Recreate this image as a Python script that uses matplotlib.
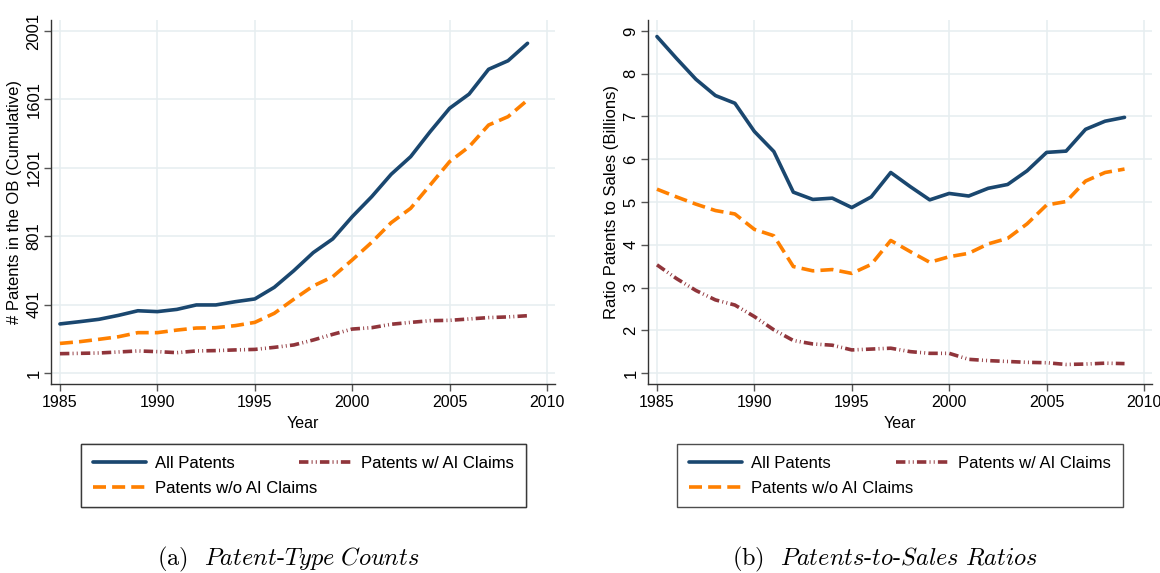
import matplotlib
matplotlib.use("Agg")
import matplotlib.pyplot as plt
from matplotlib.lines import Line2D

years = list(range(1985, 2010))

# Panel (a): cumulative patent counts
all_counts = [288, 301, 315, 338, 365, 360, 373, 399, 399, 418, 434, 502, 599, 705, 785,
              915, 1032, 1163, 1266, 1412, 1549, 1632, 1777, 1827, 1929]
noai_counts = [174, 184, 198, 213, 237, 237, 252, 264, 266, 278, 297, 350, 432, 510, 564,
               662, 765, 880, 964, 1100, 1237, 1324, 1451, 1500, 1597]
ai_counts = [114, 116, 118, 124, 130, 126, 120, 130, 132, 136, 139, 151, 165, 194, 227,
             258, 266, 286, 297, 307, 309, 317, 325, 329, 336]

# Panel (b): patents-to-sales ratios
all_ratio = [8.87, 8.36, 7.87, 7.49, 7.31, 6.65, 6.18, 5.23, 5.06, 5.09, 4.87, 5.12, 5.69,
             5.36, 5.05, 5.20, 5.14, 5.32, 5.41, 5.73, 6.16, 6.19, 6.70, 6.89, 6.98]
noai_ratio = [5.30, 5.12, 4.95, 4.80, 4.72, 4.36, 4.21, 3.49, 3.39, 3.42, 3.33, 3.54, 4.10,
              3.84, 3.59, 3.72, 3.80, 4.02, 4.15, 4.49, 4.93, 5.01, 5.49, 5.69, 5.77]
ai_ratio = [3.53, 3.21, 2.93, 2.71, 2.59, 2.32, 2.01, 1.76, 1.68, 1.65, 1.54, 1.56, 1.58,
            1.50, 1.46, 1.46, 1.32, 1.29, 1.27, 1.25, 1.24, 1.20, 1.21, 1.23, 1.22]

xticks = [1985, 1990, 1995, 2000, 2005, 2010]
yticks_a = [1, 401, 801, 1201, 1601, 2001]
yticks_b = [1, 2, 3, 4, 5, 6, 7, 8, 9]

series_labels = ["All Patents", "Patents w/o AI Claims", "Patents w/ AI Claims"]

NAVY = "#1a476f"
ORANGE = "#ff8000"
MAROON = "#90353b"
GRID = "#e6eef0"
SANS = ["Liberation Sans", "DejaVu Sans"]

plt.rcParams["mathtext.fontset"] = "cm"

W, H = 1160, 573
fig = plt.figure(figsize=(W / 100, H / 100), dpi=100)


def fx(px):
    return px / W


def fy(py):
    return 1 - py / H


styles = [
    dict(color=NAVY, lw=2.6, ls="-", solid_capstyle="round"),
    dict(color=ORANGE, lw=2.6, ls=(0, (3.6, 1.7)), dash_capstyle="butt"),
    dict(color=MAROON, lw=2.6, ls=(0, (2.6, 0.9, 0.25, 0.9, 0.25, 0.9)), dash_capstyle="butt"),
]


def make_axes(left_px, right_px, xlim, ylim, yticks, ylabel, series):
    ax = fig.add_axes([fx(left_px), fy(384), fx(right_px - left_px), (384 - 20) / H])
    for vals, st in zip(series, styles):
        ax.plot(years, vals, **st, zorder=3)
    ax.set_xlim(*xlim)
    ax.set_ylim(*ylim)
    ax.set_xticks(xticks)
    ax.set_yticks(yticks)
    ax.grid(True, color=GRID, lw=1.1, zorder=0)
    ax.set_axisbelow(True)
    for s in ["top", "right"]:
        ax.spines[s].set_visible(False)
    for s in ["left", "bottom"]:
        ax.spines[s].set_color("#333333")
        ax.spines[s].set_linewidth(1.0)
    ax.tick_params(axis="both", direction="out", length=5, width=1.0, color="#555555")
    ax.tick_params(axis="x", pad=3)
    ax.tick_params(axis="y", pad=2)
    for t in ax.get_xticklabels():
        t.set_fontfamily(SANS)
        t.set_fontsize(11.5)
    for t in ax.get_yticklabels():
        t.set_fontfamily(SANS)
        t.set_fontsize(12)
        t.set_rotation(90)
        t.set_va("center")
    ax.set_xlabel("Year", fontfamily=SANS, fontsize=11.5, labelpad=4)
    ax.set_ylabel(ylabel, fontfamily=SANS, fontsize=12, labelpad=3)
    return ax


ax1 = make_axes(51, 555, (1984.54, 2010.41), (-63.3, 2065.3), yticks_a,
                "# Patents in the OB (Cumulative)", [all_counts, noai_counts, ai_counts])
ax2 = make_axes(648, 1152, (1984.54, 2010.41), (0.743, 9.257), yticks_b,
                "Ratio Patents to Sales (Billions)", [all_ratio, noai_ratio, ai_ratio])


def make_legend(x0, x1):
    handles = [Line2D([], [], **st) for st in styles]
    leg = fig.legend(handles, series_labels, ncol=2, mode="expand",
                     loc="upper left",
                     bbox_to_anchor=(fx(x0), fy(503), fx(x1 - x0), (503 - 444) / H),
                     prop={"family": SANS, "size": 12},
                     frameon=True, fancybox=False, edgecolor="#222222",
                     handlelength=3.2, handletextpad=0.55, labelspacing=0.6,
                     borderpad=0.7, borderaxespad=0.0, columnspacing=1.4)
    leg.get_frame().set_linewidth(1.0)
    return leg


fig.add_artist(make_legend(81, 526))
make_legend(677, 1123)

fig.text(fx(288), fy(559), r"(a)  $\mathit{Patent}$-$\mathit{Type\ Counts}$",
         family="cmr10", fontsize=17.5, ha="center", va="center")
fig.text(fx(885), fy(559), r"(b)  $\mathit{Patents}$-$\mathit{to}$-$\mathit{Sales\ Ratios}$",
         family="cmr10", fontsize=17.5, ha="center", va="center")

fig.savefig("out.png", dpi=100)
